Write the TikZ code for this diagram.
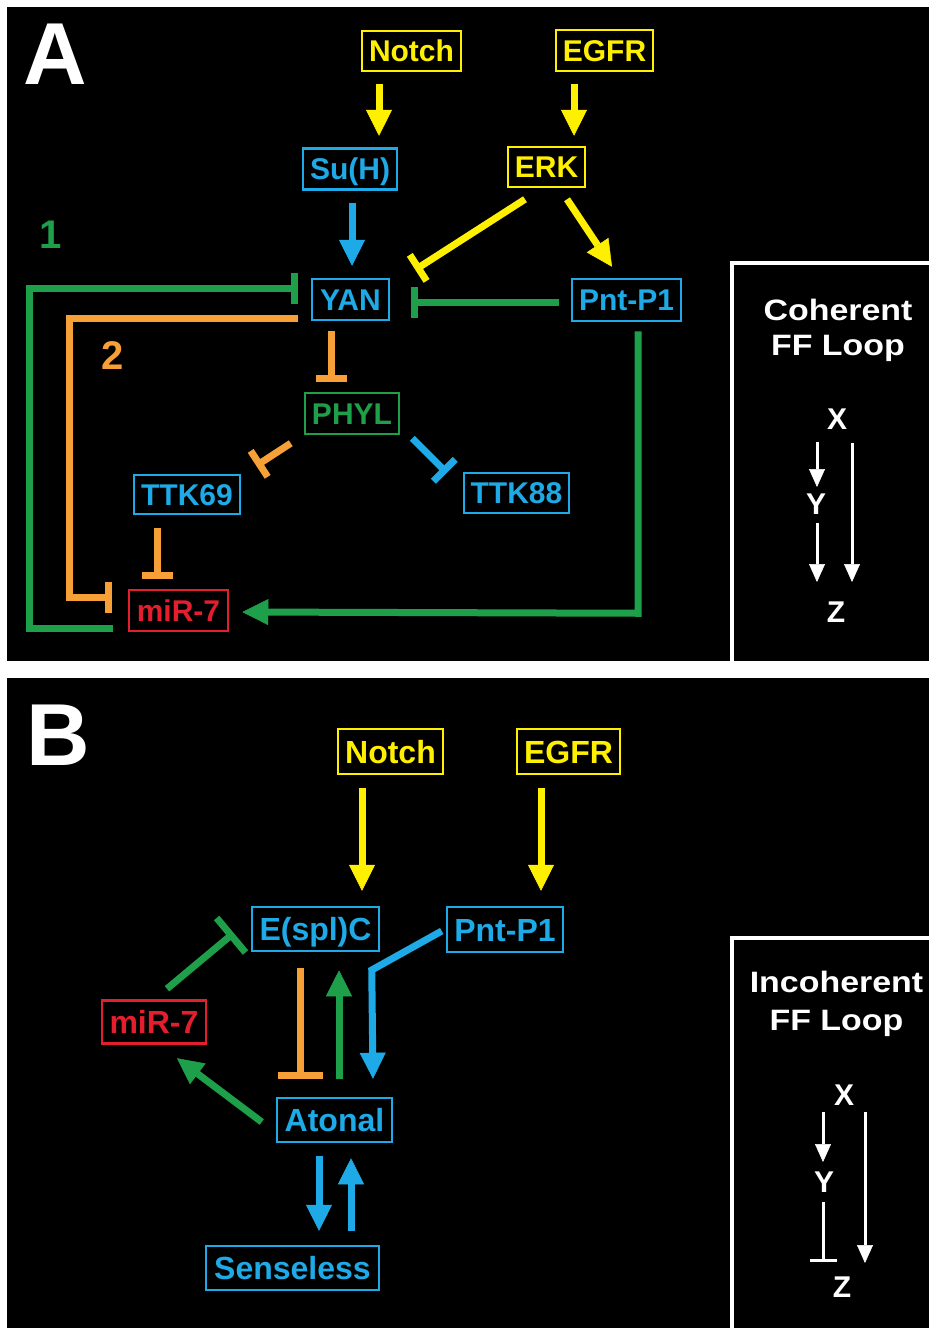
\documentclass[tikz,border=0pt]{standalone}
\usepackage{fontspec}
\setmainfont{Liberation Sans}
\usetikzlibrary{arrows.meta,calc}
\definecolor{ylw}{RGB}{255,240,0}
\definecolor{blu}{RGB}{30,170,230}
\definecolor{grn}{RGB}{30,160,75}
\definecolor{org}{RGB}{247,160,55}
\definecolor{rd}{RGB}{228,30,45}
\newcommand{\wide}[1]{\scalebox{1.15}[1]{#1}}
\begin{document}
\begin{tikzpicture}[x=1pt,y=-1pt,
  box/.style={draw=#1,text=#1,fill=black,line width=2.5pt,inner sep=0pt,
    text height=21.5pt,text depth=0pt,font=\bfseries\fontsize{30}{30}\selectfont},
  boxB/.style={box=#1,text height=23pt,font=\bfseries\fontsize{32}{32}\selectfont},
  act/.style={draw=#1,line width=7pt,-{Triangle[width=26pt,length=26pt,line width=0.5pt]}},
  inh/.style={draw=#1,line width=7pt,-{Bar[width=31pt]}},
  inhB/.style={draw=#1,line width=7pt,-{Bar[width=45pt]}},
  wtxt/.style={text=white,inner sep=0pt,font=\bfseries\fontsize{30}{30}\selectfont},
  ttl/.style={text=white,inner sep=0pt,anchor=base,font=\bfseries\fontsize{29.5}{29.5}\selectfont},
  big/.style={text=white,inner sep=0pt,font=\bfseries\fontsize{88}{88}\selectfont},
  num/.style={text=#1,inner sep=0pt,font=\bfseries\fontsize{40}{40}\selectfont},
  wact/.style={draw=white,line width=3pt,-{Triangle[width=16pt,length=18pt,line width=0.5pt]}},
  winh/.style={draw=white,line width=3pt,-{Bar[width=27pt]}},
  frame/.style={draw=white,line width=3.5pt}
]
\fill[white] (0,0) rectangle (929,1328);
\useasboundingbox (0,0) rectangle (929,1328);
\fill[black] (7,7) rectangle (929,661);
\fill[black] (7,678) rectangle (929,1328);

% ---------------- Panel A ----------------
\node[big] (lblA) at (55,54) {A};
\node[num=grn] (one) at (51,235) {1};
\node[num=org] (two) at (113,356) {2};

\node[box=ylw,minimum width=99pt,minimum height=40pt] (NotchA) at (411.5,51) {Notch};
\node[box=ylw,minimum width=97pt,minimum height=41pt] (EGFRA) at (604.5,50.5) {EGFR};
\node[box=blu,minimum width=94pt,minimum height=41pt] (SuH) at (350,169) {Su(H)};
\node[box=ylw,minimum width=77pt,minimum height=40pt] (ERK) at (546.5,167) {ERK};
\node[box=blu,minimum width=77pt,minimum height=41pt] (YAN) at (350.5,299.5) {YAN};
\node[box=blu,minimum width=109pt,minimum height=42pt] (PntA) at (626.5,300) {Pnt-P1};
\node[box=grn,minimum width=94pt,minimum height=41pt] (PHYL) at (352,413.5) {PHYL};
\node[box=blu,minimum width=106pt,minimum height=39pt] (TTK69) at (187,494.5) {TTK69};
\node[box=blu,minimum width=105pt,minimum height=40pt] (TTK88) at (516.5,493) {TTK88};
\node[box=rd,minimum width=99pt,minimum height=41pt] (miRA) at (178.5,610.5) {miR-7};

\draw[act=ylw] ($(NotchA.south)+(-32.5,12)$) -- ($(SuH.north)+(29,-11.5)$);
\draw[act=ylw] ($(EGFRA.south)+(-30.5,12)$) -- ($(ERK.north)+(27.5,-10)$);
\draw[act=blu] ($(SuH.south)+(2,12.5)$) -- ($(YAN.north)+(1.5,-12)$);
\draw[inh=ylw] ($(ERK.south)+(-21.5,11)$) -- ($(YAN.north east)+(25,-8)$);
\draw[act=ylw] ($(ERK.south)+(20.5,11)$) -- ($(PntA.north)+(-14.5,-11)$);
\draw[inh=grn] ($(PntA.west)+(-12,2)$) -- ($(YAN.east)+(21,2.5)$);
% loop 1
\coordinate (c1) at ($(YAN.west)+(-281,-11.5)$);
\draw[inh=grn] ($(miRA.south west)+(-15,-4)$) -| (c1) -- ($(YAN.west)+(-13,-11.5)$);
% loop 2
\coordinate (c2) at ($(YAN.south west)+(-241,-3)$);
\draw[inh=org] ($(YAN.south west)+(-13,-3)$) -- (c2) |- ($(miRA.west)+(-16,-13.5)$);
\draw[inh=org] ($(YAN.south)+(-19.5,10)$) -- ($(PHYL.north)+(-21,-10)$);
\draw[inh=org] ($(PHYL.south west)+(-13,8)$) -- ($(TTK69.north east)+(15,-8)$);
\draw[inh=blu] ($(PHYL.south east)+(12,3)$) -- ($(TTK88.north west)+(-16,1)$);
\draw[inh=org] ($(TTK69.south)+(-30,13)$) -- ($(miRA.north)+(-21.5,-10)$);
\coordinate (c3) at ($(PntA.south)+(11.5,291)$);
\draw[act=grn] ($(PntA.south)+(11.5,9)$) -- (c3) -- ($(miRA.east)+(13,1.5)$);

% inset A
\draw[frame] (931,263) -- (732,263) -- (732,661);
\node[ttl] (cohA) at (838,320) {\wide{Coherent}};
\node[ttl] (ffA) at (838,355) {\wide{FF Loop}};
\node[wtxt] (XA) at (837,419) {X};
\node[wtxt] (YA) at (816,504) {Y};
\node[wtxt] (ZA) at (836,612) {Z};
\draw[wact] ($(XA.center)+(-20,23)$) -- ($(YA.center)+(1,-17)$);
\draw[wact] ($(YA.center)+(1,19)$) -- ($(ZA.center)+(-19,-30)$);
\draw[wact] ($(XA.center)+(15,24)$) -- ($(ZA.center)+(16,-30)$);

% ---------------- Panel B ----------------
\node[big] (lblB) at (58,735) {B};
\node[boxB=ylw,minimum width=105pt,minimum height=45pt] (NotchB) at (390.5,751.5) {Notch};
\node[boxB=ylw,minimum width=103pt,minimum height=45pt] (EGFRB) at (568.5,751.5) {EGFR};
\node[boxB=blu,minimum width=127pt,minimum height=44pt] (Espl) at (315.5,929) {E(spl)C};
\node[boxB=blu,minimum width=116pt,minimum height=45pt] (PntB) at (505,929.5) {Pnt-P1};
\node[boxB=rd,minimum width=104pt,minimum height=43pt] (miRB) at (154,1022) {miR-7};
\node[boxB=blu,minimum width=115pt,minimum height=44pt] (Atonal) at (334.5,1120) {Atonal};
\node[boxB=blu,minimum width=173pt,minimum height=44pt] (Sens) at (292.5,1268) {Senseless};

\draw[act=ylw] ($(NotchB.south)+(-28.5,13)$) -- ($(Espl.north)+(46.5,-15)$);
\draw[act=ylw] ($(EGFRB.south)+(-27.5,13)$) -- ($(PntB.north)+(36,-15)$);
\draw[inhB=grn] ($(miRB.north)+(13,-10.5)$) -- ($(Espl.west)+(-17,4)$);
\draw[inhB=org] ($(Espl.south)+(-15.5,16)$) -- ($(Atonal.north)+(-34.5,-18)$);
\draw[act=grn] ($(Atonal.north)+(4.5,-18)$) -- ($(Espl.south)+(23.5,18)$);
\coordinate (c4) at ($(PntB.west)+(-74,40.5)$);
\draw[act=blu] ($(PntB.west)+(-4,1.5)$) -- (c4) -- ($(Atonal.north)+(38.5,-18)$);
\draw[act=grn] ($(Atonal.west)+(-14,2)$) -- ($(miRB.south)+(23,13.5)$);
\draw[act=blu] ($(Atonal.south)+(-15.5,13)$) -- ($(Sens.north)+(26.5,-14)$);
\draw[act=blu] ($(Sens.north)+(58.5,-14)$) -- ($(Atonal.south)+(16.5,15)$);

% inset B
\draw[frame] (931,938) -- (732,938) -- (732,1330);
\node[ttl] (cohB) at (836.5,992) {\wide{Incoherent}};
\node[ttl] (ffB) at (836.5,1030) {\wide{FF Loop}};
\node[wtxt] (XB) at (844,1095) {X};
\node[wtxt] (YB) at (824,1182) {Y};
\node[wtxt] (ZB) at (842,1287) {Z};
\draw[wact] ($(XB.center)+(-21,17)$) -- ($(YB.center)+(-1,-20)$);
\draw[winh] ($(YB.center)+(-1,20)$) -- ($(ZB.center)+(-19,-25)$);
\draw[wact] ($(XB.center)+(21,17)$) -- ($(ZB.center)+(23,-24)$);
\end{tikzpicture}
\end{document}
